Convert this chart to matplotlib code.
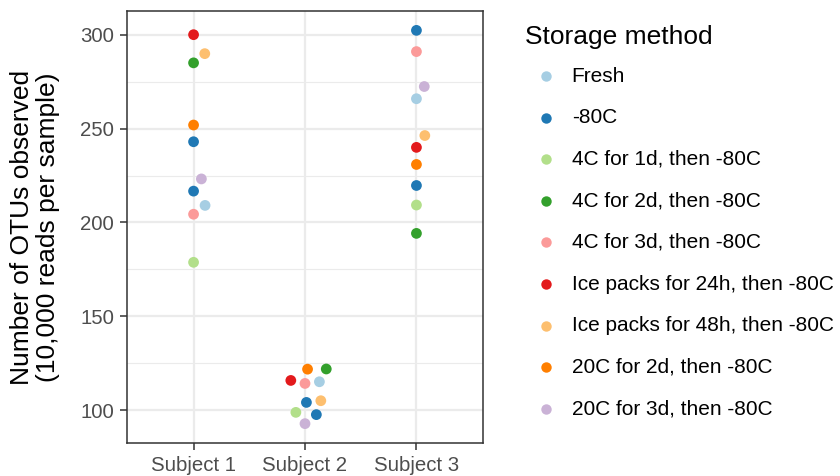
import numpy as np
import matplotlib
matplotlib.use("Agg")
import matplotlib.pyplot as plt
from matplotlib.lines import Line2D

plt.rcParams['font.family'] = ['Liberation Sans', 'DejaVu Sans']

subjects = ["Subject 1", "Subject 2", "Subject 3"]
methods = ["Fresh", "-80C", "4C for 1d, then -80C", "4C for 2d, then -80C",
           "4C for 3d, then -80C", "Ice packs for 24h, then -80C",
           "Ice packs for 48h, then -80C", "20C for 2d, then -80C",
           "20C for 3d, then -80C"]
colors = ["#A6CEE3", "#1F78B4", "#B2DF8A", "#33A02C", "#FB9A99",
          "#E31A1C", "#FDBF6F", "#FF7F00", "#CAB2D6"]

# one sample per storage method, two for -80C
sample_method = ["Fresh", "-80C", "-80C", "4C for 1d, then -80C",
                 "4C for 2d, then -80C", "4C for 3d, then -80C",
                 "Ice packs for 24h, then -80C", "Ice packs for 48h, then -80C",
                 "20C for 2d, then -80C", "20C for 3d, then -80C"]
otus_s1 = [209.1, 243.0, 216.7, 178.8, 285.0, 204.4, 300.0, 289.9, 251.9, 223.2]
otus_s2 = [115.2, 104.2, 97.7, 98.9, 122.0, 114.3, 115.9, 105.1, 121.9, 92.9]
otus_s3 = [265.9, 302.3, 219.7, 209.3, 194.2, 291.0, 240.0, 246.3, 230.9, 272.4]
otus = [otus_s1, otus_s2, otus_s3]

W, H = 840, 476
fig = plt.figure(figsize=(W / 100, H / 100), dpi=100)
ax = fig.add_axes([126.7 / W, 1 - 443.3 / H, (483.3 - 126.7) / W, (443.3 - 10.7) / H])

allv = np.concatenate(otus)
span = allv.max() - allv.min()
ax.set_ylim(allv.min() - 0.05 * span, allv.max() + 0.05 * span)
ax.set_xlim(0.4, 3.6)


def swarm(values, xc, dist=14.5):
    # beeswarm layout in pixel space, lowest values placed first
    pts = ax.transData.transform(np.column_stack([np.full(len(values), xc), values]))
    ypix = pts[:, 1]
    order = np.argsort(values, kind="stable")
    placed = []
    offs = np.zeros(len(values))
    for i in order:
        near = [(dx, ypix[i] - ypix[j]) for j, dx in placed if abs(ypix[i] - ypix[j]) < dist]
        cands = [0.0]
        for dx, dy in near:
            r = np.sqrt(dist ** 2 - dy ** 2)
            cands += [dx + r, dx - r]
        cands.sort(key=lambda c: (round(abs(c), 6), -c))
        for c in cands:
            if all((c - dx) ** 2 + dy ** 2 >= dist ** 2 - 1e-6 for dx, dy in near):
                offs[i] = c
                break
        placed.append((i, offs[i]))
    px_per_unit = ax.transData.transform((1, 0))[0] - ax.transData.transform((0, 0))[0]
    return xc + offs / px_per_unit


for k, vals in enumerate(otus):
    xs = swarm(np.array(vals), k + 1)
    cols = [colors[methods.index(m)] for m in sample_method]
    ax.scatter(xs, vals, s=60, c=cols, linewidths=0, zorder=3)

ax.set_xticks([1, 2, 3])
ax.set_xticklabels(subjects)
ax.set_yticks([100, 150, 200, 250, 300])
ax.set_yticks([125, 175, 225, 275], minor=True)
ax.grid(True, which="major", color="#EBEBEB", linewidth=1.6, zorder=0)
ax.grid(True, which="minor", axis="y", color="#EBEBEB", linewidth=0.8, zorder=0)
ax.set_axisbelow(True)
ax.tick_params(which="major", length=5, width=1.1, color="#333333",
               labelsize=14.7, labelcolor="#4D4D4D", pad=4)
ax.tick_params(which="minor", length=0)
for sp in ax.spines.values():
    sp.set_color("#333333")
    sp.set_linewidth(1.1)

# two-line axis title, anchored on the baseline of its second line
fig.text(53 / W, 1 - 227 / H, "Number of OTUs observed\n(10,000 reads per sample)",
         fontsize=19, rotation=90, rotation_mode="anchor", ha="center", va="baseline",
         multialignment="center", linespacing=1.1)

# legend drawn by hand in figure coordinates
fig.text(525 / W, 1 - 37 / H, "Storage method", fontsize=19, va="center", ha="left")
for i, (m, c) in enumerate(zip(methods, colors)):
    yy = 1 - (76 + i * 41.6) / H
    fig.add_artist(Line2D([545.7 / W], [yy], marker="o", markersize=7.5,
                          markerfacecolor=c, markeredgewidth=0, linestyle="none",
                          transform=fig.transFigure))
    fig.text(571.7 / W, yy, m, fontsize=15, va="center", ha="left")

fig.savefig("out.png", dpi=100)
